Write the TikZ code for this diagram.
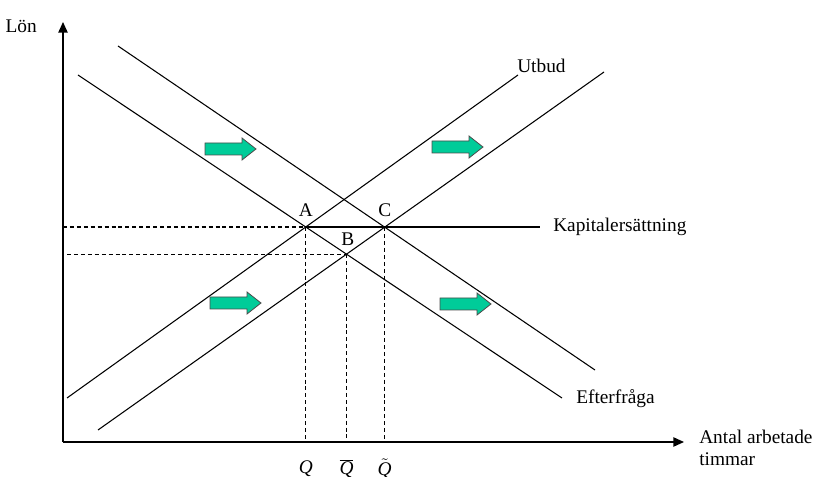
\documentclass[tikz,border=0pt]{standalone}
\usepackage{fontspec}
\setmainfont{Liberation Serif}
\begin{document}
\begin{tikzpicture}[x={(0.75pt,0)},y={(0,-0.75pt)},
  curve/.style={line width=0.8pt},
  axis/.style={line width=1.1pt,-{Triangle[length=8pt,width=7pt]}},
  guide/.style={line width=0.8pt,dash pattern=on 3pt off 2.2pt},
  lbl/.style={font=\fontsize{14.5}{17}\selectfont,inner sep=0pt},
  greenarrow/.style={fill=arrowgreen,draw=black!70,line width=0.6pt}]
\usetikzlibrary{arrows.meta}
\definecolor{arrowgreen}{HTML}{00CC99}
\useasboundingbox (0,0) rectangle (825,477);
% axes
\coordinate (O) at (63,442);
\coordinate (Ytop) at (63,22);
\coordinate (Xend) at (684,442);
\draw[axis] (O) -- (Ytop);
\draw[axis] (O) -- (Xend);
\node[lbl,anchor=east] (lon) at (37,26) {Lön};
\node[lbl,anchor=west,align=left] (xlab) at (699,448) {Antal arbetade\\timmar};
% curves
\coordinate (D1a) at (78,75);   \coordinate (D1b) at (562,398);
\coordinate (D2a) at (118,46);  \coordinate (D2b) at (595,370);
\coordinate (S1a) at (67,398);  \coordinate (S1b) at (518,75);
\coordinate (S2a) at (98,430);  \coordinate (S2b) at (604,72);
\draw[curve] (D1a) -- (D1b);
\draw[curve] (D2a) -- (D2b);
\draw[curve] (S1a) -- (S1b);
\draw[curve] (S2a) -- (S2b);
\coordinate (A) at (intersection of D1a--D1b and S1a--S1b);
\coordinate (B) at (intersection of D1a--D1b and S2a--S2b);
\coordinate (C) at (intersection of D2a--D2b and S2a--S2b);
% horizontal line
\coordinate (Hl) at (O |- A);
\coordinate (Hr) at (540,0 |- A);
\draw[guide] (Hl) -- (A);
\draw[curve] (A) -- (Hr);
\coordinate (Bl) at (67,0 |- B);
\draw[guide] (Bl) -- (B);
\draw[guide] (A) -- (A |- O);
\draw[guide] (B) -- (B |- O);
\draw[guide] (C) -- (C |- O);
% labels
\node[lbl] (la) at ([xshift=0pt,yshift=13pt]A) {A};
\node[lbl] (lb) at ([xshift=1pt,yshift=11pt]B) {B};
\node[lbl] (lc) at ([xshift=0pt,yshift=13pt]C) {C};
\node[lbl,anchor=west] (kap) at (553,0 |- A) {Kapitalersättning};
\node[lbl,anchor=west] (utbud) at (517,66) {Utbud};
\node[lbl,anchor=west] (eft) at (576,399) {Efterfråga};
\node[lbl] (q1) at ([yshift=-20pt]A |- O) {\textit{Q}};
\node[lbl] (q2) at ([yshift=-20pt]B |- O) {$\overline{\mbox{\textit{Q}}}$};
\node[lbl] (q3) at ([yshift=-20pt]C |- O) {$\tilde{\mbox{\textit{Q}}}$};
% green arrows
\foreach \n/\x/\y in {g1/205/149, g2/432/147, g3/210/303, g4/440/304}{
  \draw[greenarrow] (\x,\y-6) -- ++(37,0) -- ++(0,-5) -- ++(14,11) -- ++(-14,11) -- ++(0,-5) -- ++(-37,0) -- cycle;
}
\end{tikzpicture}
\end{document}
